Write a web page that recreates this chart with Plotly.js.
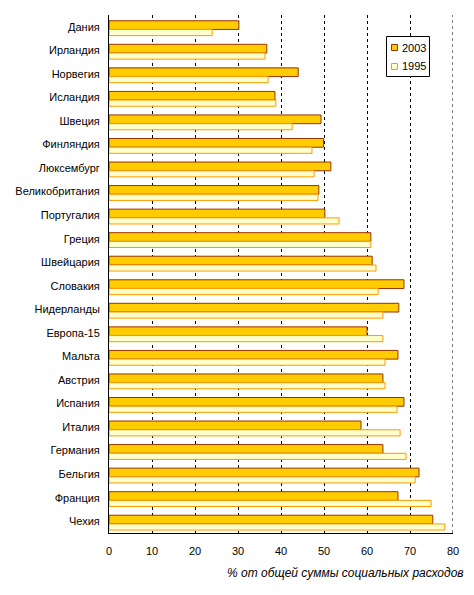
<!DOCTYPE html>
<html>
<head>
<meta charset="utf-8">
<script src="https://cdn.plot.ly/plotly-3.0.1.min.js"></script>
<style>html,body{margin:0;padding:0;background:#fff;}#chart{width:474px;height:595px;}</style>
</head>
<body>
<div id="chart"></div>
<script>
var countries = ["Дания","Ирландия","Норвегия","Исландия","Швеция","Финляндия","Люксембург","Великобритания","Португалия","Греция","Швейцария","Словакия","Нидерланды","Европа-15","Мальта","Австрия","Испания","Италия","Германия","Бельгия","Франция","Чехия"];
var values2003 = [30.2,36.7,44.0,38.6,49.3,49.9,51.6,48.8,50.2,60.9,61.2,68.6,67.4,60.0,67.2,63.7,68.6,58.6,63.7,72.1,67.2,75.3];
var values1995 = [24.0,36.3,37.0,38.8,42.6,47.2,47.7,48.6,53.5,60.9,62.1,62.6,63.7,63.7,64.2,64.2,67.0,67.7,69.1,71.2,74.9,78.1];
var xTicks = [0,10,20,30,40,50,60,70,80];
var seriesNames = ["2003","1995"];

var font = {family: "Arial, 'Liberation Sans', sans-serif", size: 11, color: "#000"};
var fill = ["#FFCC00","#FFFFCC"], edge = ["#993300","#FF9900"];

var data = [
  {type:"bar", orientation:"h", name:seriesNames[0], y:countries, x:values2003,
   width:0.37, offset:-0.255,
   marker:{color:fill[0], line:{color:edge[0], width:1}}},
  {type:"bar", orientation:"h", name:seriesNames[1], y:countries, x:values1995,
   width:0.26, offset:0.115,
   marker:{color:fill[1], line:{color:edge[1], width:1}}}
];

// pixel -> paper helpers for the hand-drawn legend
var L=109, R=453, T=15, B=533;
function px(x){return (x-L)/(R-L);}
function py(y){return (B-y)/(B-T);}

var shapes = [
  // gridline at the last tick (Plotly drops the edge gridline)
  {type:"line", xref:"x", yref:"paper", x0:xTicks[xTicks.length-1], x1:xTicks[xTicks.length-1], y0:0, y1:1,
   line:{color:"#000", width:1, dash:"3px,3px"}, layer:"below"},
  {type:"rect", xref:"paper", yref:"paper", x0:px(386.5), x1:px(429.5), y0:py(36.5), y1:py(76.5),
   fillcolor:"#fff", line:{color:"#000", width:1}, layer:"above"},
  {type:"rect", xref:"paper", yref:"paper", x0:px(391.5), x1:px(397.5), y0:py(44.5), y1:py(50.5),
   fillcolor:fill[0], line:{color:edge[0], width:1}, layer:"above"},
  {type:"rect", xref:"paper", yref:"paper", x0:px(391.5), x1:px(397.5), y0:py(63.5), y1:py(69.5),
   fillcolor:fill[1], line:{color:edge[1], width:1}, layer:"above"}
];

var layout = {
  width:474, height:595,
  margin:{l:109, r:21, t:15, b:62},
  paper_bgcolor:"#fff", plot_bgcolor:"#fff",
  font:font,
  barmode:"overlay",
  showlegend:false,
  xaxis:{range:[0,80], tickvals:xTicks, ticktext:xTicks.map(String),
         showgrid:true, gridcolor:"#000", gridwidth:1, griddash:"3px,3px",
         showline:true, linecolor:"#000", linewidth:1,
         zeroline:false, ticks:"", ticklabelstandoff:8, tickfont:font, fixedrange:true},
  yaxis:{autorange:"reversed", showline:true, linecolor:"#000", linewidth:1,
         showgrid:false, zeroline:false, ticks:"", ticklabelstandoff:6,
         tickfont:font, fixedrange:true},
  shapes:shapes,
  annotations:[
    {text:"% от общей суммы социальных расходов", xref:"paper", yref:"paper",
     x:px(466), y:py(573), xanchor:"right", yanchor:"middle", showarrow:false,
     font:{family:"Arial, 'Liberation Sans', sans-serif", size:12, color:"#000", style:"italic"}},
    {text:seriesNames[0], xref:"paper", yref:"paper", x:px(399.5), y:py(47.5),
     xanchor:"left", yanchor:"middle", showarrow:false, font:font},
    {text:seriesNames[1], xref:"paper", yref:"paper", x:px(399.5), y:py(66.5),
     xanchor:"left", yanchor:"middle", showarrow:false, font:font}
  ]
};

Plotly.newPlot("chart", data, layout, {displayModeBar:false, staticPlot:true});
</script>
</body>
</html>
